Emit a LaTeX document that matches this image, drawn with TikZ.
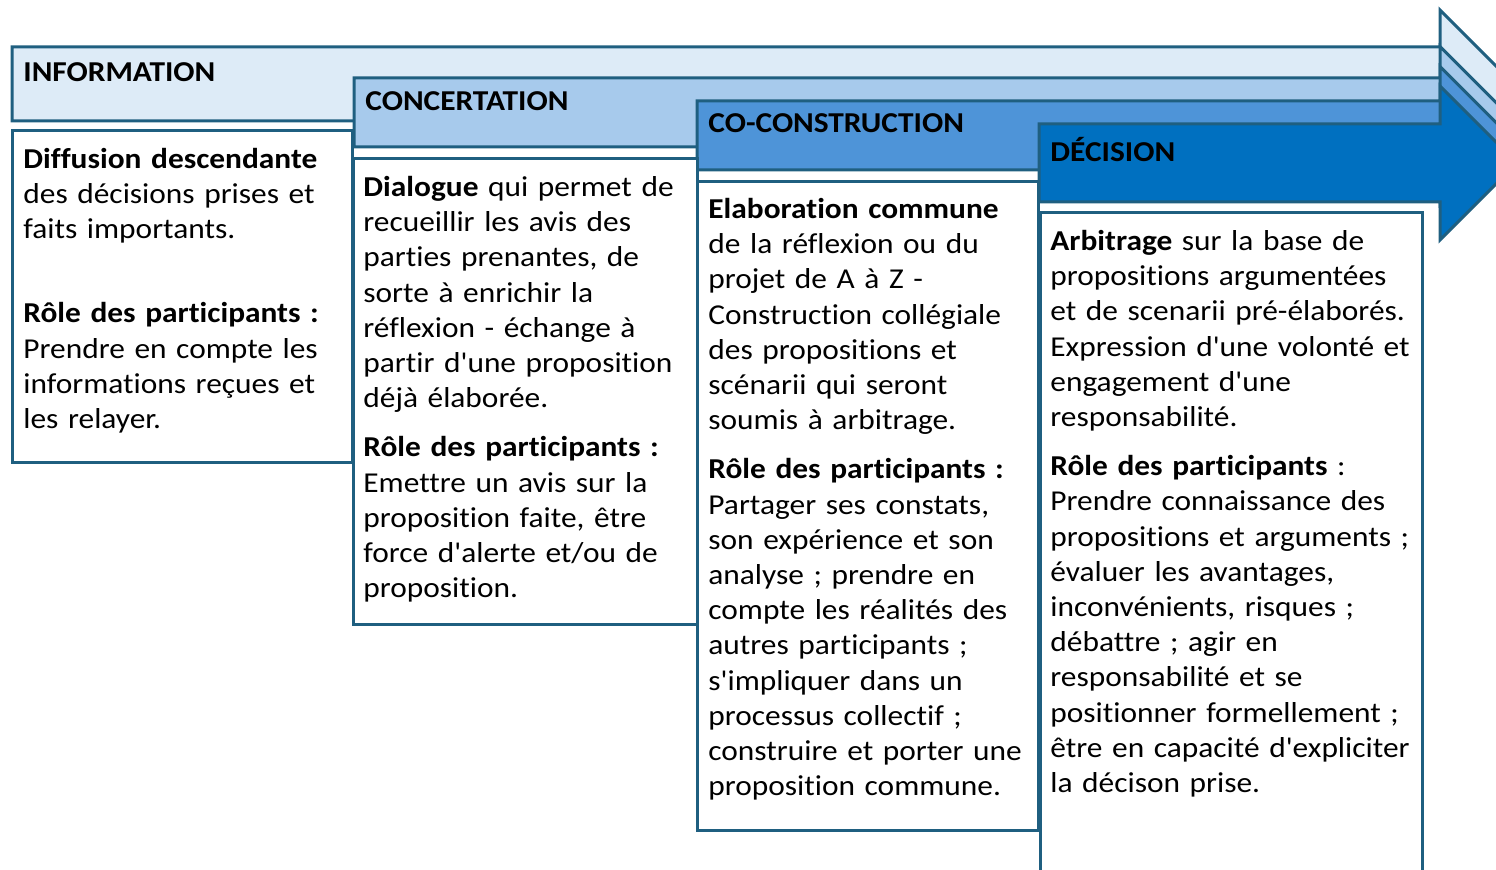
\documentclass[tikz,border=0pt]{standalone}
\usepackage{fontspec}
\setmainfont{Carlito}[FakeStretch=1.09, Ligatures={TeXOff, CommonOff}]
\usetikzlibrary{positioning}
\definecolor{infoC}{HTML}{DDEBF7}
\definecolor{concC}{HTML}{A7CAEC}
\definecolor{cocoC}{HTML}{4E94D8}
\definecolor{decC}{HTML}{0070C0}
\definecolor{edgeC}{HTML}{1F5F80}
\frenchspacing

\begin{document}
\begin{tikzpicture}[x=0.5pt, y=-0.5pt,
   band/.style={draw=edgeC, line width=1.5pt, line join=miter},
   head/.style={anchor=base west, inner sep=0pt, font=\fontsize{14.4}{17.6}\selectfont\bfseries},
   pane/.style={draw=edgeC, line width=1.5pt, fill=white},
   body/.style={anchor=north west, inner sep=0pt, text width=200pt, align=left,
                font=\fontsize{14.4}{17.6}\selectfont}]
  \useasboundingbox (0,0) rectangle (1496,870);
  \clip (0,0) rectangle (1496,870);
  % stacked arrows: left / top / bottom / half head / colour / label baseline / label
  \foreach \x/\t/\b/\h/\c/\lb/\lab [count=\i] in {%
    12/47/121/74/infoC/82/INFORMATION,%
    354/78/147/66/concC/111/CONCERTATION,%
    697/101/170/69/cocoC/133/CO-CONSTRUCTION,%
    1039/124/202/77/decC/162/DÉCISION}{%
      \pgfmathsetmacro\m{(\t+\b)/2}
      \draw[band, fill=\c] (\x,\t) -- (1440,\t) -- (1440,{\m-\h}) -- ({1440+\h},\m)
        -- (1440,{\m+\h}) -- (1440,\b) -- (\x,\b) -- cycle;
      \node[head] (h\i) at ({\x+11},\lb) {\lab};
  }
  % text panes
  \draw[pane] (12,131) rectangle (352,463);
  \draw[pane] (353,159) rectangle (697,625);
  \draw[pane] (697,182) rectangle (1038,831);
  \draw[pane] (1040,213) rectangle (1422,900);
  \node[body] (t1) at (23,143.4) {\strut\textbf{Diffusion descendante}\\
    des décisions prises et\\ faits importants.\\[24.4pt]
    \textbf{Rôle des participants :}\\ Prendre en compte les\\
    informations reçues et\\ les relayer.};
  \node[body] (t2) at (363,171.4) {\strut\textbf{Dialogue} qui permet de\\
    recueillir les avis des\\ parties prenantes, de\\ sorte à enrichir la\\
    réflexion - échange à\\ partir d'une proposition\\ déjà élaborée.\\[7pt]
    \textbf{Rôle des participants :}\\ Emettre un avis sur la\\
    proposition faite, être\\ force d'alerte et/ou de\\ proposition.};
  \node[body] (t3) at (708,193.4) {\strut\textbf{Elaboration commune}\\
    de la réflexion ou du\\ projet de A à Z -\\ Construction collégiale\\
    des propositions et\\ scénarii qui seront\\ soumis à arbitrage.\\[7pt]
    \textbf{Rôle des participants :}\\ Partager ses constats,\\
    son expérience et son\\ analyse ; prendre en\\ compte les réalités des\\
    autres participants ;\\ s'impliquer dans un\\ processus collectif ;\\
    construire et porter une\\ proposition commune.};
  \node[body] (t4) at (1050,225.4) {\strut\textbf{Arbitrage} sur la base de\\
    propositions argumentées\\ et de scenarii pré-élaborés.\\
    Expression d'une volonté et\\ engagement d'une\\ responsabilité.\\[7pt]
    \textbf{Rôle des participants} :\\ Prendre connaissance des\\
    propositions et arguments ;\\ évaluer les avantages,\\
    inconvénients, risques ;\\ débattre ; agir en\\ responsabilité et se\\
    positionner formellement ;\\ être en capacité d'expliciter\\ la décison prise.};
\end{tikzpicture}
\end{document}
